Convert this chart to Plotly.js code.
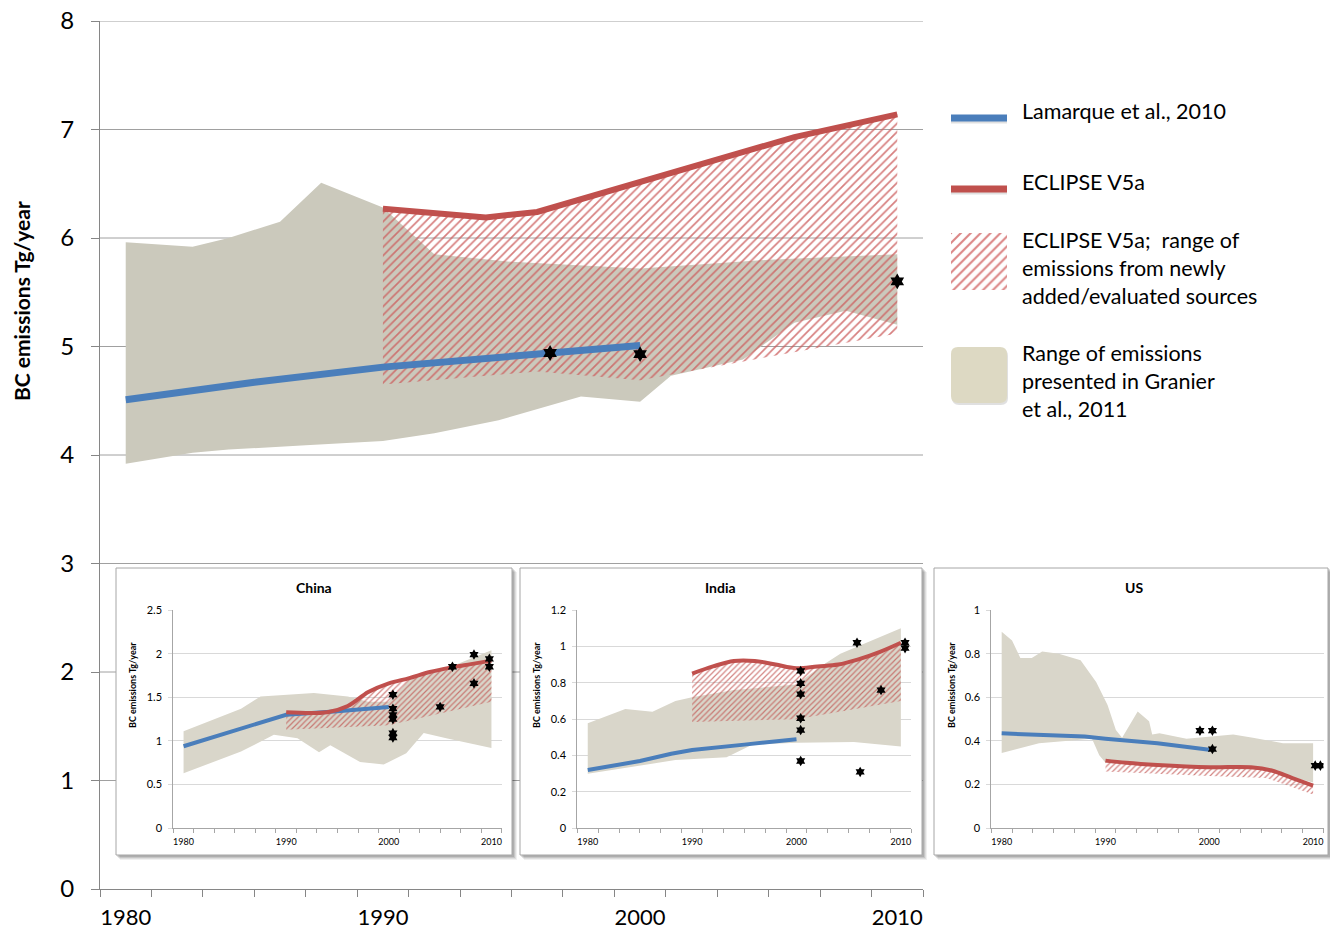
<!DOCTYPE html>
<html>
<head>
<meta charset="utf-8">
<script src="https://cdn.plot.ly/plotly-3.0.1.min.js"></script>
<style>html,body{margin:0;padding:0;background:#fff;}#chart{width:1330px;height:929px;}</style>
</head>
<body>
<div id="chart"></div>
<script>
// ---------------- DATA ----------------
// Main chart (global BC emissions, Tg/year)
const mainYTicks = [0, 1, 2, 3, 4, 5, 6, 7, 8];
const decadeTicks = [1980, 1990, 2000, 2010];

const lamarqueYears = [1980, 1985, 1990, 1995, 2000];
const lamarqueValues = [4.51, 4.67, 4.81, 4.91, 5.01];

const eclipseYears = [1990, 1994, 1996, 2000, 2004, 2006, 2010];
const eclipseValues = [6.27, 6.19, 6.24, 6.52, 6.80, 6.93, 7.14];

const eclipseLowYears = [1990, 1996, 2000, 2010];
const eclipseLowValues = [4.65, 4.77, 4.69, 5.12];

const granierUpYears = [1980, 1982.6, 1984, 1986, 1987.6, 1990, 1992, 1995, 2000, 2005, 2010];
const granierUpValues = [5.96, 5.92, 6.00, 6.15, 6.51, 6.28, 5.85, 5.78, 5.72, 5.80, 5.85];
const granierLowYears = [1980, 1982.6, 1984, 1987, 1990, 1992, 1994.5, 1997.7, 2000, 2001.2, 2004, 2006, 2008, 2010];
const granierLowValues = [3.92, 4.02, 4.05, 4.09, 4.13, 4.20, 4.32, 4.54, 4.49, 4.73, 4.88, 5.22, 5.33, 5.20];

const otherYears = [1996.5, 2000, 2010];
const otherValues = [4.94, 4.93, 5.60];

// China inset
const cnBlueYears = [1980, 1985, 1990, 1995, 2000];
const cnBlueValues = [0.94, 1.12, 1.30, 1.34, 1.39];
const cnRedYears = [1990, 1994, 1996, 1998, 2000, 2002, 2004, 2006, 2008, 2010];
const cnRedValues = [1.33, 1.33, 1.40, 1.56, 1.66, 1.72, 1.79, 1.84, 1.88, 1.92];
const cnHatchLowYears = [1990, 2000, 2010];
const cnHatchLowValues = [1.13, 1.18, 1.45];
const cnGrayUpYears = [1980, 1985.6, 1987.5, 1992.7, 1996, 1998, 2000, 2002, 2005, 2010];
const cnGrayUpValues = [1.11, 1.37, 1.51, 1.55, 1.51, 1.45, 1.45, 1.70, 1.80, 2.04];
const cnGrayLowYears = [1980, 1985.6, 1988.8, 1991.1, 1993.2, 1994.3, 1997.2, 1999.5, 2001.7, 2003.4, 2005.6, 2010];
const cnGrayLowValues = [0.63, 0.88, 1.07, 1.03, 0.87, 0.95, 0.76, 0.73, 0.86, 1.09, 1.03, 0.92];
const cnStarYears = [2000.4, 2000.4, 2000.4, 2000.4, 2000.4, 2000.4, 2005, 2006.2, 2008.3, 2008.3, 2009.8, 2009.8];
const cnStarValues = [1.53, 1.37, 1.30, 1.25, 1.09, 1.04, 1.39, 1.85, 1.99, 1.66, 1.94, 1.85];

// India inset
const inBlueYears = [1980, 1985, 1988, 1990, 1995, 2000];
const inBlueValues = [0.32, 0.37, 0.41, 0.43, 0.46, 0.49];
const inRedYears = [1990, 1992, 1994, 1996, 1998, 2000, 2002, 2004, 2006, 2008, 2010];
const inRedValues = [0.85, 0.89, 0.92, 0.92, 0.90, 0.88, 0.89, 0.90, 0.93, 0.97, 1.02];
const inHatchLowYears = [1990, 2000, 2010];
const inHatchLowValues = [0.585, 0.60, 0.70];
const inGrayUpYears = [1980, 1983.6, 1986.2, 1988.4, 1990, 1994, 2000, 2002.3, 2004.2, 2010];
const inGrayUpValues = [0.577, 0.656, 0.64, 0.70, 0.72, 0.76, 0.79, 0.89, 0.96, 1.10];
const inGrayLowYears = [1980, 1988.4, 1993.3, 1995.8, 2000, 2005.5, 2010];
const inGrayLowValues = [0.30, 0.375, 0.39, 0.46, 0.47, 0.475, 0.45];
const inStarYears = [2000.4, 2000.4, 2000.4, 2000.4, 2000.4, 2000.4, 2005.8, 2006.1, 2008.1, 2010.4, 2010.4];
const inStarValues = [0.865, 0.797, 0.737, 0.605, 0.54, 0.37, 1.02, 0.31, 0.76, 1.02, 0.99];

// US inset
const usBlueYears = [1980, 1988, 1990, 1995, 2000];
const usBlueValues = [0.435, 0.42, 0.41, 0.39, 0.36];
const usRedYears = [1990, 1992, 1995, 2000, 2004, 2006, 2008, 2010];
const usRedValues = [0.31, 0.30, 0.29, 0.28, 0.28, 0.265, 0.23, 0.195];
const usHatchLowYears = [1990, 2000, 2005.5, 2010];
const usHatchLowValues = [0.26, 0.24, 0.23, 0.155];
const usGrayUpYears = [1980, 1981, 1981.8, 1982.9, 1983.9, 1985.5, 1987.6, 1989.1, 1990.2, 1991, 1991.6, 1993.1, 1994.2, 1994.5, 1995.2, 1997.8, 2002.3, 2004.2, 2007.1, 2010];
const usGrayUpValues = [0.90, 0.86, 0.78, 0.78, 0.81, 0.80, 0.77, 0.67, 0.565, 0.45, 0.415, 0.535, 0.49, 0.43, 0.435, 0.41, 0.43, 0.415, 0.39, 0.39];
const usGrayLowYears = [1980, 1983.6, 1988.7, 1989.4, 1990, 2000, 2005, 2010];
const usGrayLowValues = [0.345, 0.39, 0.41, 0.335, 0.30, 0.27, 0.27, 0.21];
const usStarYears = [1999.1, 2000.3, 2000.3, 2010.2, 2010.7];
const usStarValues = [0.447, 0.447, 0.363, 0.287, 0.287];

const insetTitles = ["China", "India", "US"];
const insetYMax = [2.5, 1.2, 1];
const insetYStep = [0.5, 0.2, 0.2];
const yTitle = "BC emissions Tg/year";
const legendTexts = [
  ["Lamarque et al., 2010"],
  ["ECLIPSE V5a"],
  ["ECLIPSE V5a;\u00a0 range of", "emissions from newly", "added/evaluated sources"],
  ["Range of emissions", "presented in Granier", "et al., 2011"]
];

// ---------------- HELPERS ----------------
const W = 1330, H = 929;
const fx = p => p / W;
const fy = p => 1 - p / H;
const FONT = 'Lato, "Open Sans", sans-serif';
const BLUE = '#4a7ebb', RED = '#c0504d';

function band(upX, upY, lowX, lowY) {
  return {
    x: upX.concat(lowX.slice().reverse()),
    y: upY.concat(lowY.slice().reverse())
  };
}

const traces = [];
function addPanel(ax, d, opt) {
  const xa = 'x' + ax, ya = 'y' + ax;
  const g = band(d.gUpX, d.gUpY, d.gLowX, d.gLowY);
  traces.push({x: g.x, y: g.y, xaxis: xa, yaxis: ya, type: 'scatter', mode: 'none',
    fill: 'toself', fillcolor: opt.gray, hoverinfo: 'skip'});
  const h = band(d.rX, d.rY, d.hLowX, d.hLowY);
  traces.push({x: h.x, y: h.y, xaxis: xa, yaxis: ya, type: 'scatter', mode: 'none',
    fill: 'toself', fillcolor: 'rgba(0,0,0,0)',
    fillpattern: {shape: '/', fgcolor: opt.hatch, size: opt.hsize, solidity: opt.hsol},
    hoverinfo: 'skip'});
  traces.push({x: d.bX, y: d.bY, xaxis: xa, yaxis: ya, type: 'scatter', mode: 'lines',
    line: {color: BLUE, width: opt.lw}, hoverinfo: 'skip'});
  traces.push({x: d.rX, y: d.rY, xaxis: xa, yaxis: ya, type: 'scatter', mode: 'lines',
    line: {color: RED, width: opt.rw, shape: opt.spline ? 'spline' : 'linear'}, hoverinfo: 'skip'});
  traces.push({x: d.sX, y: d.sY, xaxis: xa, yaxis: ya, type: 'scatter', mode: 'markers',
    marker: {symbol: 'hexagram', color: '#000', size: opt.ms, line: {width: 0}}, hoverinfo: 'skip'});
}

addPanel('', {gUpX: granierUpYears, gUpY: granierUpValues, gLowX: granierLowYears, gLowY: granierLowValues,
  rX: eclipseYears, rY: eclipseValues, hLowX: eclipseLowYears, hLowY: eclipseLowValues,
  bX: lamarqueYears, bY: lamarqueValues, sX: otherYears, sY: otherValues},
  {gray: '#cbc9bc', hatch: 'rgba(205,95,95,0.8)', hsize: 6, hsol: 0.28, lw: 7, rw: 6, ms: 12, spline: false});
addPanel('2', {gUpX: cnGrayUpYears, gUpY: cnGrayUpValues, gLowX: cnGrayLowYears, gLowY: cnGrayLowValues,
  rX: cnRedYears, rY: cnRedValues, hLowX: cnHatchLowYears, hLowY: cnHatchLowValues,
  bX: cnBlueYears, bY: cnBlueValues, sX: cnStarYears, sY: cnStarValues},
  {gray: '#d9d6ca', hatch: 'rgba(192,80,77,0.7)', hsize: 4, hsol: 0.3, lw: 4, rw: 4, ms: 8, spline: true});
addPanel('3', {gUpX: inGrayUpYears, gUpY: inGrayUpValues, gLowX: inGrayLowYears, gLowY: inGrayLowValues,
  rX: inRedYears, rY: inRedValues, hLowX: inHatchLowYears, hLowY: inHatchLowValues,
  bX: inBlueYears, bY: inBlueValues, sX: inStarYears, sY: inStarValues},
  {gray: '#d9d6ca', hatch: 'rgba(192,80,77,0.7)', hsize: 4, hsol: 0.3, lw: 4, rw: 4, ms: 8, spline: true});
addPanel('4', {gUpX: usGrayUpYears, gUpY: usGrayUpValues, gLowX: usGrayLowYears, gLowY: usGrayLowValues,
  rX: usRedYears, rY: usRedValues, hLowX: usHatchLowYears, hLowY: usHatchLowValues,
  bX: usBlueYears, bY: usBlueValues, sX: usStarYears, sY: usStarValues},
  {gray: '#d9d6ca', hatch: 'rgba(192,80,77,0.7)', hsize: 4, hsol: 0.3, lw: 4, rw: 4, ms: 8, spline: true});

// Legend hatched swatch (own hidden axes)
traces.push({x: [0, 1, 1, 0, 0], y: [0, 0, 1, 1, 0], xaxis: 'x5', yaxis: 'y5', type: 'scatter', mode: 'none',
  fill: 'toself', fillcolor: 'rgba(0,0,0,0)',
  fillpattern: {shape: '/', fgcolor: 'rgba(215,120,120,0.9)', size: 7, solidity: 0.3}, hoverinfo: 'skip'});

// ---------------- LAYOUT ----------------
const AXC = '#868686';
const layout = {
  width: W, height: H,
  margin: {l: 0, r: 0, t: 0, b: 0},
  paper_bgcolor: '#ffffff', plot_bgcolor: 'rgba(0,0,0,0)',
  showlegend: false, hovermode: false,
  font: {family: FONT, color: '#000'},
  xaxis: {domain: [fx(100), fx(923)], range: [1979, 2011], tickvals: decadeTicks, ticks: '',
    showgrid: false, zeroline: false, showline: true, linecolor: AXC, linewidth: 1,
    tickfont: {size: 22, family: FONT, color: '#000'}, ticklabelstandoff: 9,
    minor: {tick0: 1979, dtick: 2, ticks: 'outside', ticklen: 7, tickcolor: AXC, showgrid: false},
    anchor: 'y', fixedrange: true},
  yaxis: {domain: [fy(889), fy(21)], range: [0, 8], tickvals: mainYTicks, ticks: 'outside', ticklen: 8,
    tickcolor: AXC, showgrid: false, zeroline: false, showline: true, linecolor: AXC, linewidth: 1,
    tickfont: {size: 24, family: FONT, color: '#000'}, ticklabelstandoff: 12, anchor: 'x', fixedrange: true},
  xaxis5: {domain: [fx(951), fx(1007)], range: [0, 1], visible: false, anchor: 'y5', fixedrange: true},
  yaxis5: {domain: [fy(290), fy(233)], range: [0, 1], visible: false, anchor: 'x5', fixedrange: true},
  shapes: [], annotations: []
};

const insetPlotX = [[173.3, 501.7], [577.3, 911.3], [991.3, 1323.5]];
const insetBox = [[116, 512], [520, 922], [934, 1328]];
const INS_TOP = 568, INS_BOT = 855;

['2', '3', '4'].forEach((k, i) => {
  layout['xaxis' + k] = {domain: [fx(insetPlotX[i][0]), fx(insetPlotX[i][1])], range: [1979, 2011],
    tickvals: decadeTicks, ticks: '', showgrid: false, zeroline: false, showline: true,
    linecolor: '#a6a6a6', linewidth: 1, tickfont: {size: 9, family: FONT, color: '#000'},
    ticklabelstandoff: 5,
    minor: {tick0: 1979, dtick: 2, ticks: 'outside', ticklen: 4, tickcolor: '#a6a6a6', showgrid: false},
    anchor: 'y' + k, fixedrange: true};
  layout['yaxis' + k] = {domain: [fy(828.3), fy(610)], range: [0, insetYMax[i]], dtick: insetYStep[i], tick0: 0,
    showgrid: true, gridcolor: '#d9d9d9', gridwidth: 1, zeroline: false, showline: true,
    linecolor: '#a6a6a6', linewidth: 1, ticks: 'outside', ticklen: 4, tickcolor: '#d9d9d9',
    tickfont: {size: 11, family: FONT, color: '#000'}, ticklabelstandoff: 4,
    anchor: 'x' + k, fixedrange: true};
});

// main gridlines (drawn below so inset boxes can cover them)
mainYTicks.slice(1).forEach(v => {
  layout.shapes.push({type: 'line', xref: 'paper', yref: 'y', x0: fx(100), x1: fx(923), y0: v, y1: v,
    line: {color: '#a0a0a0', width: 1}, layer: 'below'});
});
// inset boxes with shadows
insetBox.forEach(b => {
  [[5, 0.06], [4, 0.08], [3, 0.1], [2, 0.12]].forEach(s => {
    layout.shapes.push({type: 'rect', xref: 'paper', yref: 'paper',
      x0: fx(b[0] + s[0] - 1), x1: fx(b[1] + s[0]), y0: fy(INS_BOT + s[0]), y1: fy(INS_TOP + s[0] - 1),
      fillcolor: 'rgba(0,0,0,' + s[1] + ')', line: {width: 0}, layer: 'below'});
  });
  layout.shapes.push({type: 'rect', xref: 'paper', yref: 'paper',
    x0: fx(b[0]), x1: fx(b[1]), y0: fy(INS_BOT), y1: fy(INS_TOP),
    fillcolor: '#ffffff', line: {color: '#a6a6a6', width: 1}, layer: 'below'});
});

// legend swatches
function roundRectPath(x0, y0, x1, y1, r) {
  const P = (x, y) => fx(x) + ',' + fy(y);
  return 'M' + P(x0 + r, y0) + ' L' + P(x1 - r, y0) + ' Q' + P(x1, y0) + ' ' + P(x1, y0 + r) +
    ' L' + P(x1, y1 - r) + ' Q' + P(x1, y1) + ' ' + P(x1 - r, y1) +
    ' L' + P(x0 + r, y1) + ' Q' + P(x0, y1) + ' ' + P(x0, y1 - r) +
    ' L' + P(x0, y0 + r) + ' Q' + P(x0, y0) + ' ' + P(x0 + r, y0) + ' Z';
}
layout.shapes.push({type: 'line', xref: 'paper', yref: 'paper', x0: fx(951), x1: fx(1007), y0: fy(120), y1: fy(120),
  line: {color: 'rgba(0,0,0,0.12)', width: 7}});
layout.shapes.push({type: 'line', xref: 'paper', yref: 'paper', x0: fx(951), x1: fx(1007), y0: fy(118), y1: fy(118),
  line: {color: BLUE, width: 7}});
layout.shapes.push({type: 'line', xref: 'paper', yref: 'paper', x0: fx(951), x1: fx(1007), y0: fy(191), y1: fy(191),
  line: {color: 'rgba(0,0,0,0.12)', width: 7}});
layout.shapes.push({type: 'line', xref: 'paper', yref: 'paper', x0: fx(951), x1: fx(1007), y0: fy(189), y1: fy(189),
  line: {color: RED, width: 7}});
layout.shapes.push({type: 'path', xref: 'paper', yref: 'paper', path: roundRectPath(952, 349, 1008, 405, 7),
  fillcolor: 'rgba(0,0,0,0.12)', line: {width: 0}, layer: 'below'});
layout.shapes.push({type: 'path', xref: 'paper', yref: 'paper', path: roundRectPath(951, 347, 1007, 403, 7),
  fillcolor: '#ddd9c3', line: {width: 0}, layer: 'below'});

// legend labels
const legendLineY = [[111], [182], [240, 268, 296], [353, 381, 409]];
legendTexts.forEach((lines, i) => {
  lines.forEach((t, j) => {
    layout.annotations.push({text: t, xref: 'paper', yref: 'paper', x: fx(1020), y: fy(legendLineY[i][j]),
      xanchor: 'left', yanchor: 'middle', showarrow: false, font: {size: 21.5, family: FONT, color: '#000'}});
  });
});

// main y title
layout.annotations.push({text: '<b>' + yTitle + '</b>', xref: 'paper', yref: 'paper', x: fx(21), y: fy(301),
  xanchor: 'center', yanchor: 'middle', textangle: -90, showarrow: false,
  font: {size: 21, family: FONT, color: '#000'}});

// inset titles and y titles
const insetTitleX = [314, 720, 1134];
const insetYTitleX = [132, 536, 951];
insetTitles.forEach((t, i) => {
  layout.annotations.push({text: '<b>' + t + '</b>', xref: 'paper', yref: 'paper', x: fx(insetTitleX[i]), y: fy(587),
    xanchor: 'center', yanchor: 'middle', showarrow: false, font: {size: 14, family: FONT, color: '#000'}});
  layout.annotations.push({text: '<b>' + yTitle + '</b>', xref: 'paper', yref: 'paper', x: fx(insetYTitleX[i]), y: fy(685),
    xanchor: 'center', yanchor: 'middle', textangle: -90, showarrow: false,
    font: {size: 9, family: FONT, color: '#000'}});
});

Plotly.newPlot('chart', traces, layout, {staticPlot: true, displayModeBar: false});
</script>
</body>
</html>
